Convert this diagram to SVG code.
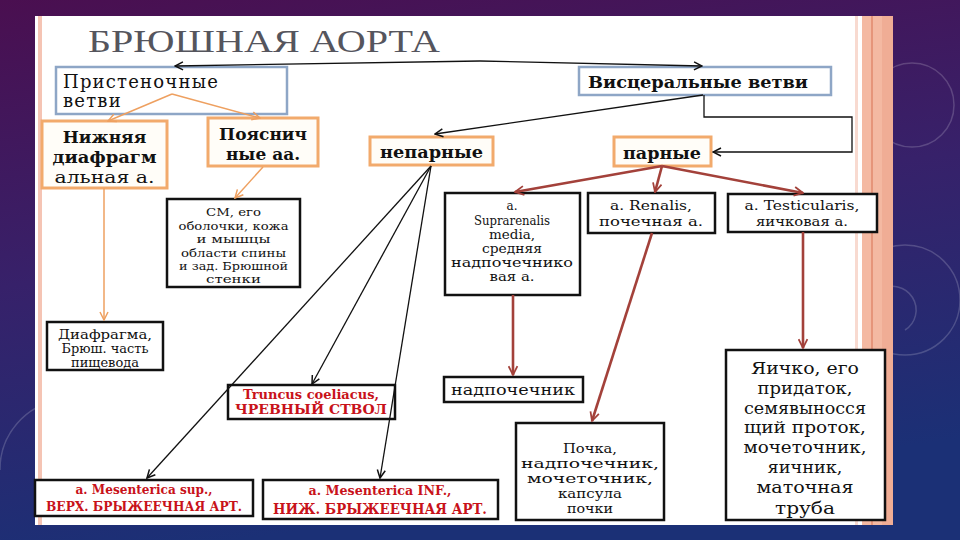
<svg xmlns="http://www.w3.org/2000/svg" width="960" height="540" viewBox="0 0 960 540">
<defs>
<linearGradient id="bg" x1="0" y1="0" x2="0.25" y2="1">
<stop offset="0" stop-color="#4a0f50"/>
<stop offset="0.5" stop-color="#37216a"/>
<stop offset="1" stop-color="#1b3076"/>
</linearGradient>
<marker id="ak" viewBox="0 0 10 10" refX="9" refY="5" markerWidth="10" markerHeight="10" markerUnits="userSpaceOnUse" orient="auto"><path d="M1,1 L9,5 L1,9" fill="none" stroke="#111" stroke-width="1.5"/></marker>
<marker id="ao" viewBox="0 0 10 10" refX="9" refY="5" markerWidth="10" markerHeight="10" markerUnits="userSpaceOnUse" orient="auto"><path d="M1,1 L9,5 L1,9" fill="none" stroke="#eea060" stroke-width="1.5"/></marker>
<marker id="ab" viewBox="0 0 10 10" refX="9" refY="5" markerWidth="11" markerHeight="11" markerUnits="userSpaceOnUse" orient="auto"><path d="M1,1 L9,5 L1,9" fill="none" stroke="#a3413a" stroke-width="1.6"/></marker>
</defs>
<style>
.t{font-family:"DejaVu Serif","Liberation Serif",serif;fill:#111;text-anchor:middle}
.title{font-family:"Liberation Serif","DejaVu Serif",serif;font-size:32px;fill:#55555d}
.l{text-anchor:start}
.b{font-weight:bold}
.r{fill:#c8121a;font-weight:bold}
.bk{fill:#fff;stroke:#111;stroke-width:2.5}
.or{fill:#fffdf8;stroke:#f2aa6c;stroke-width:3}
.bl{fill:#fff;stroke:#8ea6c6;stroke-width:2.5}
.ck{fill:none;stroke:#111;stroke-width:1.3}
.co{fill:none;stroke:#eea060;stroke-width:1.5}
.cb{fill:none;stroke:#a3413a;stroke-width:2.6}
.deco{fill:none;stroke:#ffffff;stroke-opacity:0.18;stroke-width:1.5}
</style>
<rect width="960" height="540" fill="url(#bg)"/>
<g class="deco">
<circle cx="912" cy="105" r="42"/>
<circle cx="905" cy="300" r="55"/>
<path d="M880,290 A22,22 0 1 1 905,330"/>
<path d="M0,470 A70,70 0 0 1 60,400"/>
</g>
<rect x="35" y="16" width="858" height="509" fill="#fff"/>
<rect x="38" y="16" width="4" height="509" fill="#f5c4b4"/>
<rect x="855" y="16" width="3" height="509" fill="#f8dad0"/>
<rect x="862" y="16" width="31" height="509" fill="#f4b9a2"/>
<rect x="871" y="16" width="2" height="509" fill="#e6957a"/>
<rect x="882" y="16" width="11" height="509" fill="#f0ad95"/>
<text class="title" x="88" y="52" textLength="352" lengthAdjust="spacingAndGlyphs">БРЮШНАЯ АОРТА</text>

<g id="parietal">
<rect class="bl" x="56" y="67" width="231" height="47"/>
<text class="t l" x="63" y="88" style="font-size:18px;letter-spacing:1.2px">Пристеночные</text>
<text class="t l" x="63" y="107" style="font-size:18px;letter-spacing:1.2px">ветви</text>
</g>
<g id="visceral">
<rect class="bl" x="579" y="67" width="252" height="28"/>
<text class="t l b" x="588" y="88" style="font-size:17px" textLength="220" lengthAdjust="spacingAndGlyphs">Висцеральные ветви</text>
</g>
<g id="phrenic">
<rect class="or" x="42" y="121" width="125" height="67"/>
<text class="t b" x="104.5" y="143" style="font-size:17px">Нижняя</text>
<text class="t b" x="104.5" y="163" style="font-size:17px" textLength="104" lengthAdjust="spacingAndGlyphs">диафрагм</text>
<text class="t" x="104.5" y="183" style="font-size:17px" textLength="100" lengthAdjust="spacingAndGlyphs">альная а.</text>
</g>
<g id="lumbar">
<rect class="or" x="208" y="118" width="110" height="48"/>
<text class="t b" x="263" y="140" style="font-size:17px">Пояснич</text>
<text class="t b" x="263" y="160" style="font-size:17px">ные аа.</text>
</g>
<g id="spinal">
<rect class="bk" x="167" y="199" width="133" height="88"/>
<text class="t" x="233.5" y="216" style="font-size:11.5px" textLength="55" lengthAdjust="spacingAndGlyphs">СМ, его</text>
<text class="t" x="233.5" y="229.5" style="font-size:11.5px" textLength="110" lengthAdjust="spacingAndGlyphs">оболочки, кожа</text>
<text class="t" x="233.5" y="243" style="font-size:11.5px" textLength="74" lengthAdjust="spacingAndGlyphs">и мышцы</text>
<text class="t" x="233.5" y="256.5" style="font-size:11.5px" textLength="105" lengthAdjust="spacingAndGlyphs">области спины</text>
<text class="t" x="233.5" y="270" style="font-size:11.5px" textLength="109" lengthAdjust="spacingAndGlyphs">и зад. Брюшной</text>
<text class="t" x="233.5" y="283" style="font-size:11.5px" textLength="55" lengthAdjust="spacingAndGlyphs">стенки</text>
</g>
<g id="diaphragm">
<rect class="bk" x="47" y="322" width="116" height="48"/>
<text class="t" x="105" y="339" style="font-size:12.5px" textLength="94" lengthAdjust="spacingAndGlyphs">Диафрагма,</text>
<text class="t" x="105" y="353" style="font-size:12.5px" textLength="87" lengthAdjust="spacingAndGlyphs">Брюш. часть</text>
<text class="t" x="105" y="367" style="font-size:12.5px" textLength="68" lengthAdjust="spacingAndGlyphs">пищевода</text>
</g>
<g id="unpaired">
<rect class="or" x="370" y="137" width="123" height="28"/>
<text class="t b" x="431.5" y="158" style="font-size:17px" textLength="103" lengthAdjust="spacingAndGlyphs">непарные</text>
</g>
<g id="paired">
<rect class="or" x="614" y="137" width="97" height="29"/>
<text class="t b" x="662" y="159" style="font-size:17px" textLength="78" lengthAdjust="spacingAndGlyphs">парные</text>
</g>
<g id="suprarenalis">
<rect class="bk" x="445" y="193" width="135" height="102"/>
<text class="t" x="512" y="210" style="font-size:12px">а.</text>
<text class="t" x="512" y="225" style="font-size:12px" textLength="76" lengthAdjust="spacingAndGlyphs">Suprarenalis</text>
<text class="t" x="512" y="239" style="font-size:12px" textLength="46" lengthAdjust="spacingAndGlyphs">media,</text>
<text class="t" x="512" y="253" style="font-size:12px" textLength="60" lengthAdjust="spacingAndGlyphs">средняя</text>
<text class="t" x="512" y="267" style="font-size:12px" textLength="122" lengthAdjust="spacingAndGlyphs">надпочечнико</text>
<text class="t" x="512" y="281" style="font-size:12px" textLength="45" lengthAdjust="spacingAndGlyphs">вая а.</text>
</g>
<g id="renalis">
<rect class="bk" x="588" y="193" width="127" height="40"/>
<text class="t" x="651" y="210" style="font-size:13px" textLength="82" lengthAdjust="spacingAndGlyphs">a. Renalis,</text>
<text class="t" x="651" y="226" style="font-size:12.5px" textLength="104" lengthAdjust="spacingAndGlyphs">почечная а.</text>
</g>
<g id="testicularis">
<rect class="bk" x="728" y="194" width="149" height="38"/>
<text class="t" x="802" y="210" style="font-size:13px" textLength="115" lengthAdjust="spacingAndGlyphs">a. Testicularis,</text>
<text class="t" x="802" y="226" style="font-size:12.5px" textLength="92" lengthAdjust="spacingAndGlyphs">яичковая а.</text>
</g>
<g id="adrenal">
<rect class="bk" x="444" y="377" width="139" height="25"/>
<text class="t" x="513" y="395" style="font-size:15px" textLength="124" lengthAdjust="spacingAndGlyphs">надпочечник</text>
</g>
<g id="kidney">
<rect class="bk" x="516" y="423" width="148" height="97"/>
<text class="t" x="590" y="453" style="font-size:12.5px" textLength="54" lengthAdjust="spacingAndGlyphs">Почка,</text>
<text class="t" x="590" y="468" style="font-size:12.5px" textLength="138" lengthAdjust="spacingAndGlyphs">надпочечник,</text>
<text class="t" x="590" y="483" style="font-size:12.5px" textLength="126" lengthAdjust="spacingAndGlyphs">мочеточник,</text>
<text class="t" x="590" y="498" style="font-size:12.5px" textLength="64" lengthAdjust="spacingAndGlyphs">капсула</text>
<text class="t" x="590" y="513" style="font-size:12.5px" textLength="46" lengthAdjust="spacingAndGlyphs">почки</text>
</g>
<g id="testis">
<rect class="bk" x="726" y="350" width="159" height="170"/>
<text class="t" x="805" y="374" style="font-size:17px" textLength="108" lengthAdjust="spacingAndGlyphs">Яичко, его</text>
<text class="t" x="805" y="394" style="font-size:17px" textLength="95" lengthAdjust="spacingAndGlyphs">придаток,</text>
<text class="t" x="805" y="414" style="font-size:17px" textLength="122" lengthAdjust="spacingAndGlyphs">семявыносся</text>
<text class="t" x="805" y="433" style="font-size:17px" textLength="122" lengthAdjust="spacingAndGlyphs">щий проток,</text>
<text class="t" x="805" y="453" style="font-size:17px" textLength="123" lengthAdjust="spacingAndGlyphs">мочеточник,</text>
<text class="t" x="805" y="473" style="font-size:17px" textLength="75" lengthAdjust="spacingAndGlyphs">яичник,</text>
<text class="t" x="805" y="493" style="font-size:17px" textLength="97" lengthAdjust="spacingAndGlyphs">маточная</text>
<text class="t" x="805" y="514" style="font-size:17px" textLength="60" lengthAdjust="spacingAndGlyphs">труба</text>
</g>
<g id="truncus">
<rect class="bk" x="228" y="385" width="167" height="34"/>
<text class="t r" x="311" y="399" style="font-size:12px" textLength="136" lengthAdjust="spacingAndGlyphs">Truncus coeliacus,</text>
<text class="t r" x="311" y="414" style="font-size:13px" textLength="152" lengthAdjust="spacingAndGlyphs">ЧРЕВНЫЙ СТВОЛ</text>
</g>
<g id="mes-sup">
<rect class="bk" x="35" y="480" width="218" height="36"/>
<text class="t r" x="144" y="494" style="font-size:12px" textLength="137" lengthAdjust="spacingAndGlyphs">a. Mesenterica sup.,</text>
<text class="t r" x="144" y="511" style="font-size:12px" textLength="196" lengthAdjust="spacingAndGlyphs">ВЕРХ. БРЫЖЕЕЧНАЯ АРТ.</text>
</g>
<g id="mes-inf">
<rect class="bk" x="263" y="480" width="235" height="39"/>
<text class="t r" x="380" y="495" style="font-size:12px" textLength="143" lengthAdjust="spacingAndGlyphs">a. Mesenterica INF.,</text>
<text class="t r" x="380" y="514" style="font-size:14px" textLength="214" lengthAdjust="spacingAndGlyphs">НИЖ. БРЫЖЕЕЧНАЯ АРТ.</text>
</g>

<g id="connectors">
<path class="ck" d="M480,61 L175,66" marker-end="url(#ak)"/>
<path class="ck" d="M480,61 L702,66" marker-end="url(#ak)"/>
<path class="co" d="M172,94 L108,121" marker-end="url(#ao)"/>
<path class="co" d="M172,94 L260,118" marker-end="url(#ao)"/>
<path class="co" d="M263,167 L235,198" marker-end="url(#ao)"/>
<path class="co" d="M104,188 L104,320" marker-end="url(#ao)"/>
<path class="ck" d="M703,95 L435,134" marker-end="url(#ak)"/>
<path class="ck" d="M704,95 L704,117 L852,117 L852,152 L713,152" marker-end="url(#ak)"/>
<path class="cb" d="M662,166 L515,192" marker-end="url(#ab)"/>
<path class="cb" d="M662,166 L655,192" marker-end="url(#ab)"/>
<path class="cb" d="M662,166 L803,193" marker-end="url(#ab)"/>
<path class="cb" d="M513,295 L513,375" marker-end="url(#ab)"/>
<path class="cb" d="M652,233 L592,421" marker-end="url(#ab)"/>
<path class="cb" d="M803,232 L803,348" marker-end="url(#ab)"/>
<path class="ck" d="M431,166 L147,478" marker-end="url(#ak)"/>
<path class="ck" d="M431,166 L312,384" marker-end="url(#ak)"/>
<path class="ck" d="M431,166 L380,478" marker-end="url(#ak)"/>
</g>
</svg>
